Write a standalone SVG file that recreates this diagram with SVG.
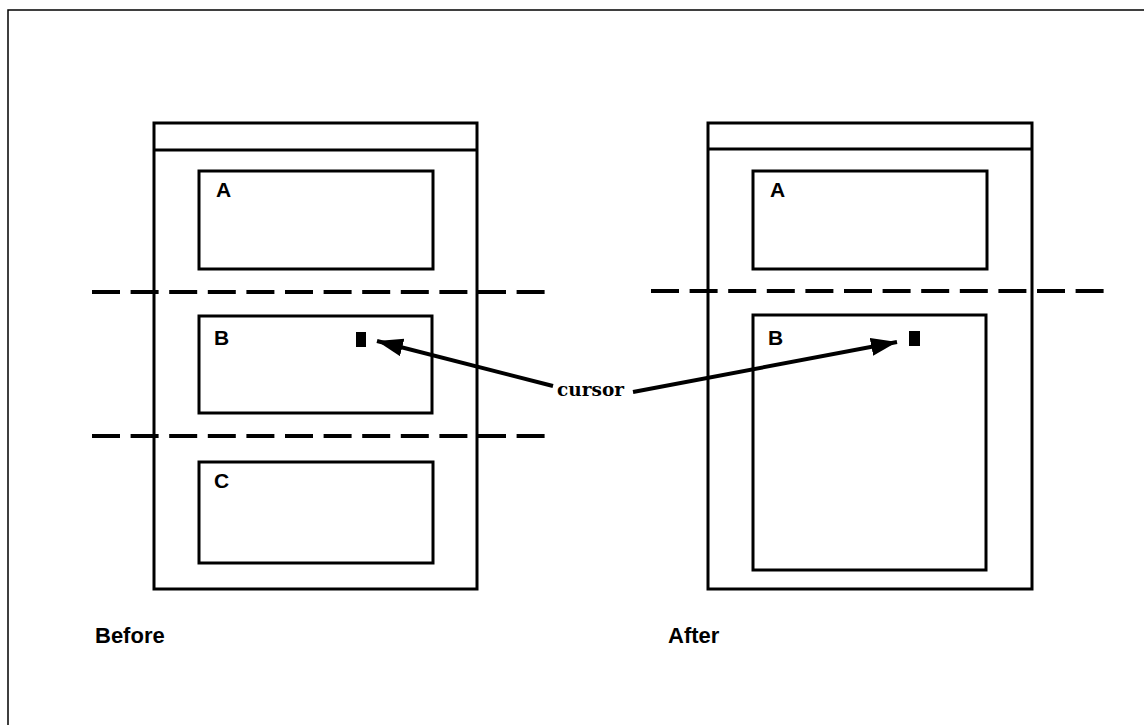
<svg xmlns="http://www.w3.org/2000/svg" width="1144" height="725" viewBox="0 0 1144 725">
<style>
.frame{fill:none;stroke:#000;stroke-width:1.5}
.win{fill:none;stroke:#000;stroke-width:3}
.box{fill:none;stroke:#000;stroke-width:3}
.dash{fill:none;stroke:#000;stroke-width:4;stroke-dasharray:28 10.6}
.conn{fill:none;stroke:#000;stroke-width:4}
.lbl{font-family:"Liberation Sans",Arial,sans-serif;font-weight:bold;font-size:21px;fill:#000}
.cap{font-family:"Liberation Sans",Arial,sans-serif;font-weight:bold;font-size:22px;fill:#000}
.cur{font-family:"DejaVu Serif","Liberation Serif",serif;font-weight:bold;font-size:19px;fill:#000}
</style>
<defs>
<marker id="ah" markerUnits="userSpaceOnUse" markerWidth="28" markerHeight="20" refX="26" refY="9" orient="auto">
<path d="M0,0 L26,9 L0,18 Z" fill="#000"/>
</marker>
</defs>
<rect width="1144" height="725" fill="#fff"/>
<path class="frame" d="M8,725 L8,10 L1144,10"/>

<g id="before-window">
<rect class="win" x="154" y="123" width="323" height="466"/>
<line class="win" x1="154" y1="150" x2="477" y2="150"/>
</g>
<g id="before-A">
<rect class="box" x="199" y="171" width="234" height="98"/>
<text class="lbl" x="216" y="197">A</text>
</g>
<g id="before-B">
<rect class="box" x="199" y="316" width="233" height="97"/>
<text class="lbl" x="214" y="345">B</text>
<rect id="cursor-before" x="356" y="332" width="10" height="15" fill="#000"/>
</g>
<g id="before-C">
<rect class="box" x="199" y="462" width="234" height="101"/>
<text class="lbl" x="214" y="488">C</text>
</g>

<g id="after-window">
<rect class="win" x="708" y="123" width="324" height="466"/>
<line class="win" x1="708" y1="149" x2="1032" y2="149"/>
</g>
<g id="after-A">
<rect class="box" x="753" y="171" width="234" height="98"/>
<text class="lbl" x="770" y="197">A</text>
</g>
<g id="after-B">
<rect class="box" x="753" y="315" width="233" height="255"/>
<text class="lbl" x="768" y="345">B</text>
<rect id="cursor-after" x="909" y="331" width="11" height="15" fill="#000"/>
</g>

<g id="dividers">
<line class="dash" x1="92" y1="292" x2="545" y2="292"/>
<line class="dash" x1="92" y1="436" x2="545" y2="436"/>
<line class="dash" x1="651" y1="291" x2="1105" y2="291"/>
</g>

<g id="connectors">
<line class="conn" x1="553" y1="386" x2="377" y2="341" marker-end="url(#ah)"/>
<line class="conn" x1="633" y1="392" x2="897" y2="342" marker-end="url(#ah)"/>
</g>

<g id="cursor-label">
<text class="cur" x="557" y="396" textLength="67" lengthAdjust="spacingAndGlyphs">cursor</text>
</g>
<g id="captions">
<text class="cap" x="95" y="643">Before</text>
<text class="cap" x="668" y="643">After</text>
</g>
</svg>
